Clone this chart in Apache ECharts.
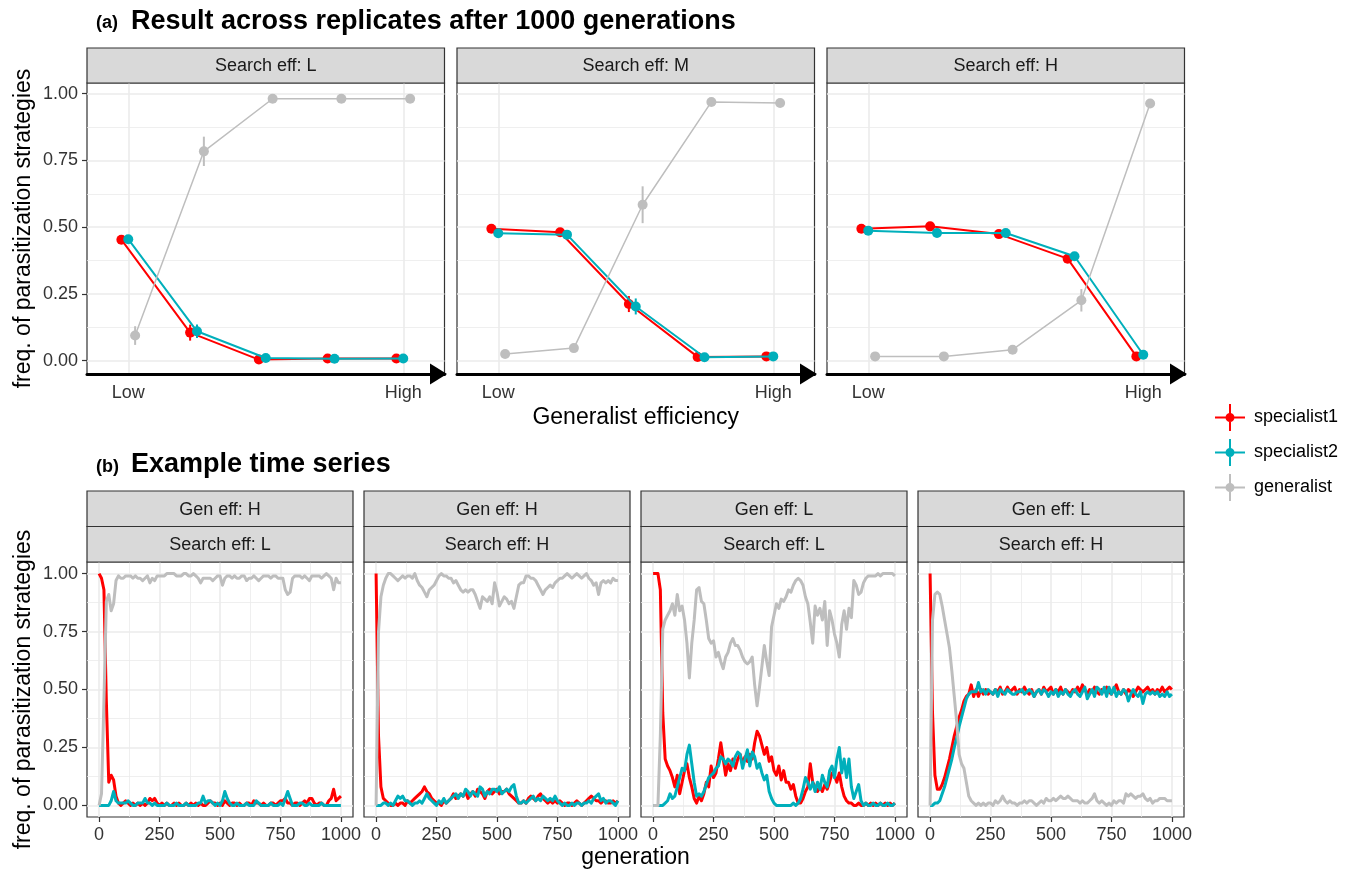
<!DOCTYPE html>
<html><head><meta charset="utf-8">
<script src="https://cdn.jsdelivr.net/npm/echarts@6/dist/echarts.min.js"></script>
<style>html,body{margin:0;padding:0;background:#fff}#c{width:1352px;height:874px}</style>
</head><body><div id="c"></div>
<script>
// ---------------- DATA ----------------
const strategies = ['specialist1', 'specialist2', 'generalist'];

// (a) Result across replicates after 1000 generations
const effLevels = [1, 2, 3, 4, 5];
const effTickValues = [1, 5];
const effTickLabels = ['Low', 'High'];
const freqTicks = [0, 0.25, 0.5, 0.75, 1];
const freqMinorTicks = [0.125, 0.375, 0.625, 0.875];
const panelsA = ['Search eff: L', 'Search eff: M', 'Search eff: H'];

const aL_spec1 = [0.453, 0.105, 0.004, 0.008, 0.008];
const aL_spec1_se = [0.008, 0.030, 0.004, 0.004, 0.004];
const aL_spec2 = [0.455, 0.110, 0.010, 0.007, 0.008];
const aL_spec2_se = [0.008, 0.025, 0.004, 0.004, 0.004];
const aL_gen = [0.094, 0.784, 0.981, 0.981, 0.981];
const aL_gen_se = [0.035, 0.055, 0.004, 0.004, 0.004];

const aM_spec1 = [0.494, 0.481, 0.212, 0.014, 0.016];
const aM_spec1_se = [0.006, 0.006, 0.030, 0.004, 0.004];
const aM_spec2 = [0.477, 0.472, 0.203, 0.013, 0.016];
const aM_spec2_se = [0.006, 0.006, 0.030, 0.004, 0.004];
const aM_gen = [0.025, 0.047, 0.584, 0.969, 0.965];
const aM_gen_se = [0.004, 0.004, 0.069, 0.004, 0.004];

const aH_spec1 = [0.494, 0.503, 0.474, 0.382, 0.016];
const aH_spec1_se = [0.005, 0.006, 0.006, 0.015, 0.004];
const aH_spec2 = [0.487, 0.478, 0.478, 0.391, 0.022];
const aH_spec2_se = [0.005, 0.005, 0.006, 0.015, 0.004];
const aH_gen = [0.016, 0.016, 0.041, 0.226, 0.963];
const aH_gen_se = [0.004, 0.004, 0.004, 0.042, 0.004];

// (b) Example time series
const genTicks = [0, 250, 500, 750, 1000];
const genMinorTicks = [125, 375, 625, 875];
const panelsB_gen = ['Gen eff: H', 'Gen eff: H', 'Gen eff: L', 'Gen eff: L'];
const panelsB_search = ['Search eff: L', 'Search eff: H', 'Search eff: L', 'Search eff: H'];
const generation = [0,10,20,30,40,50,60,70,80,90,100,110,120,130,140,150,160,170,180,190,200,210,220,230,240,250,260,270,280,290,300,310,320,330,340,350,360,370,380,390,400,410,420,430,440,450,460,470,480,490,500,510,520,530,540,550,560,570,580,590,600,610,620,630,640,650,660,670,680,690,700,710,720,730,740,750,760,770,780,790,800,810,820,830,840,850,860,870,880,890,900,910,920,930,940,950,960,970,980,990,1000];

const b1_spec1 = [1.00,0.98,0.93,0.45,0.10,0.13,0.11,0.04,0.01,0.00,
 0.01,0.02,0.01,0.00,0.01,0.00,0.01,0.00,0.01,0.00,
 0.01,0.03,0.02,0.03,0.01,0.00,0.01,0.00,0.01,0.00,
 0.00,0.01,0.00,0.01,0.00,0.00,0.01,0.00,0.01,0.00,
 0.01,0.00,0.01,0.00,0.00,0.01,0.02,0.01,0.01,0.00,
 0.01,0.00,0.02,0.01,0.00,0.01,0.01,0.00,0.01,0.00,
 0.00,0.01,0.01,0.00,0.02,0.01,0.01,0.00,0.01,0.00,
 0.00,0.01,0.01,0.00,0.01,0.02,0.02,0.03,0.01,0.01,
 0.00,0.01,0.01,0.00,0.01,0.02,0.01,0.03,0.03,0.01,
 0.00,0.01,0.01,0.00,0.00,0.02,0.03,0.07,0.02,0.03,0.04];
const b1_spec2 = [0.00,0.00,0.00,0.00,0.00,0.02,0.06,0.02,0.01,0.01,
 0.01,0.01,0.02,0.01,0.00,0.00,0.01,0.01,0.01,0.03,
 0.01,0.01,0.00,0.01,0.00,0.00,0.00,0.00,0.01,0.00,
 0.00,0.00,0.01,0.00,0.00,0.00,0.01,0.00,0.00,0.00,
 0.00,0.01,0.01,0.04,0.01,0.02,0.02,0.01,0.00,0.01,
 0.00,0.02,0.06,0.03,0.01,0.00,0.00,0.01,0.00,0.00,
 0.00,0.01,0.00,0.00,0.00,0.02,0.01,0.00,0.00,0.00,
 0.00,0.01,0.00,0.00,0.00,0.01,0.00,0.03,0.06,0.03,
 0.00,0.00,0.00,0.01,0.01,0.00,0.00,0.01,0.00,0.00,
 0.00,0.00,0.01,0.00,0.00,0.00,0.00,0.00,0.00,0.00,0.00];
const b1_gen = [0.00,0.05,0.45,0.88,0.91,0.84,0.87,0.97,0.99,0.98,
 0.98,0.99,0.99,0.99,0.98,0.99,0.98,0.98,0.97,0.98,
 0.99,0.96,0.98,0.97,0.99,0.99,0.99,0.99,1.00,1.00,
 1.00,1.00,0.99,0.99,0.99,1.00,1.00,0.99,0.99,1.00,
 0.99,0.98,0.96,0.98,0.98,0.98,0.98,0.97,0.98,0.99,
 0.99,0.95,0.98,0.99,0.99,0.98,0.99,0.98,0.98,0.99,
 0.99,0.97,0.98,0.98,0.99,0.98,0.97,0.98,0.99,0.99,
 0.99,0.98,0.99,0.99,0.98,0.98,0.98,0.93,0.91,0.92,
 0.98,0.99,0.99,0.99,0.98,0.99,0.98,0.97,0.99,0.99,
 0.99,0.99,0.98,0.99,1.00,0.99,0.98,0.93,0.98,0.96,0.96];

const b2_spec1 = [1.00,0.30,0.08,0.03,0.02,0.01,0.00,0.00,0.01,0.00,
 0.01,0.01,0.00,0.02,0.01,0.02,0.03,0.04,0.05,0.06,
 0.08,0.06,0.05,0.03,0.02,0.01,0.01,0.00,0.02,0.01,
 0.02,0.03,0.05,0.03,0.04,0.05,0.04,0.06,0.03,0.05,
 0.06,0.04,0.07,0.06,0.05,0.03,0.06,0.07,0.05,0.06,
 0.07,0.05,0.06,0.06,0.07,0.05,0.04,0.03,0.02,0.01,
 0.01,0.02,0.01,0.03,0.04,0.03,0.02,0.04,0.05,0.03,
 0.02,0.01,0.02,0.01,0.02,0.01,0.02,0.01,0.00,0.01,
 0.01,0.00,0.01,0.02,0.01,0.00,0.01,0.02,0.03,0.04,
 0.03,0.02,0.02,0.01,0.02,0.02,0.01,0.01,0.02,0.01,0.02];
const b2_spec2 = [0.00,0.00,0.00,0.01,0.01,0.00,0.01,0.00,0.02,0.04,
 0.03,0.04,0.02,0.02,0.01,0.00,0.01,0.01,0.02,0.01,
 0.03,0.05,0.03,0.02,0.01,0.00,0.02,0.01,0.03,0.01,
 0.02,0.03,0.04,0.05,0.03,0.05,0.04,0.07,0.06,0.04,
 0.06,0.05,0.04,0.08,0.07,0.04,0.06,0.05,0.07,0.07,
 0.06,0.08,0.05,0.06,0.07,0.06,0.08,0.09,0.04,0.01,
 0.01,0.02,0.01,0.02,0.03,0.04,0.02,0.03,0.02,0.04,
 0.03,0.02,0.03,0.02,0.04,0.02,0.01,0.00,0.01,0.00,
 0.00,0.01,0.00,0.01,0.01,0.00,0.01,0.01,0.02,0.01,
 0.03,0.04,0.05,0.02,0.03,0.01,0.02,0.02,0.01,0.00,0.02];
const b2_gen = [0.00,0.75,0.90,0.95,0.98,1.00,1.00,0.99,0.98,0.97,
 0.98,0.99,0.98,0.99,0.99,0.98,1.00,0.97,0.95,0.94,
 0.92,0.90,0.93,0.94,0.95,0.97,0.99,1.00,0.99,0.99,
 0.98,0.98,0.96,0.97,0.95,0.93,0.92,0.93,0.92,0.93,
 0.93,0.91,0.88,0.85,0.90,0.89,0.88,0.90,0.87,0.96,
 0.92,0.86,0.88,0.90,0.89,0.87,0.88,0.85,0.90,0.95,
 0.96,0.96,0.99,0.99,0.98,0.98,0.97,0.95,0.93,0.91,
 0.93,0.94,0.95,0.94,0.96,0.97,0.98,0.98,0.99,1.00,
 0.99,0.98,0.99,1.00,0.99,0.98,0.99,1.00,0.98,0.97,
 0.95,0.96,0.91,0.96,0.97,0.96,0.97,0.96,0.98,0.97,0.97];

const b3_spec1 = [1.00,1.00,1.00,0.93,0.40,0.20,0.17,0.15,0.12,0.08,
 0.13,0.05,0.10,0.15,0.18,0.12,0.08,0.03,0.01,0.04,
 0.02,0.05,0.10,0.08,0.17,0.12,0.14,0.20,0.27,0.20,
 0.13,0.18,0.15,0.20,0.16,0.20,0.22,0.18,0.21,0.19,
 0.22,0.20,0.27,0.32,0.30,0.26,0.22,0.25,0.19,0.21,
 0.15,0.13,0.17,0.11,0.15,0.10,0.10,0.07,0.09,0.04,
 0.01,0.01,0.03,0.06,0.08,0.18,0.10,0.08,0.06,0.08,
 0.06,0.09,0.07,0.10,0.14,0.13,0.10,0.14,0.08,0.04,
 0.02,0.01,0.01,0.00,0.00,0.01,0.00,0.00,0.01,0.00,
 0.01,0.00,0.01,0.00,0.01,0.00,0.01,0.00,0.01,0.00,0.01];
const b3_spec2 = [0.00,0.00,0.00,0.00,0.00,0.01,0.02,0.05,0.03,0.04,
 0.08,0.12,0.16,0.15,0.22,0.26,0.18,0.10,0.04,0.05,
 0.04,0.06,0.09,0.12,0.13,0.14,0.16,0.17,0.21,0.20,
 0.18,0.20,0.19,0.17,0.21,0.23,0.22,0.16,0.20,0.24,
 0.17,0.23,0.21,0.16,0.18,0.14,0.11,0.13,0.06,0.03,
 0.01,0.00,0.00,0.00,0.00,0.00,0.00,0.00,0.01,0.00,
 0.01,0.03,0.07,0.12,0.10,0.07,0.10,0.06,0.10,0.07,
 0.13,0.10,0.08,0.15,0.17,0.12,0.20,0.25,0.14,0.20,
 0.12,0.20,0.08,0.03,0.06,0.09,0.02,0.00,0.01,0.00,
 0.00,0.01,0.00,0.00,0.01,0.00,0.00,0.01,0.00,0.00,0.01];
const b3_gen = [0.00,0.00,0.00,0.30,0.76,0.80,0.82,0.84,0.87,0.82,
 0.91,0.84,0.86,0.80,0.70,0.55,0.70,0.80,0.93,0.94,
 0.88,0.87,0.80,0.72,0.70,0.71,0.64,0.66,0.62,0.59,
 0.64,0.66,0.70,0.72,0.69,0.69,0.67,0.64,0.62,0.61,
 0.62,0.64,0.52,0.43,0.51,0.60,0.69,0.62,0.56,0.77,
 0.82,0.87,0.85,0.89,0.88,0.90,0.93,0.92,0.95,0.97,
 0.98,0.97,0.95,0.90,0.87,0.79,0.70,0.86,0.82,0.85,
 0.80,0.88,0.69,0.84,0.80,0.74,0.70,0.64,0.78,0.84,
 0.76,0.85,0.81,0.97,0.95,0.91,0.92,0.96,0.98,0.99,
 0.99,0.99,0.99,1.00,0.99,1.00,1.00,1.00,1.00,1.00,0.99];

const b4_spec1 = [1.00,0.40,0.13,0.07,0.07,0.09,0.12,0.16,0.20,0.25,
 0.30,0.34,0.38,0.41,0.45,0.47,0.48,0.52,0.47,0.50,
 0.47,0.50,0.48,0.50,0.48,0.49,0.48,0.50,0.49,0.51,
 0.48,0.49,0.51,0.49,0.50,0.51,0.48,0.50,0.49,0.51,
 0.49,0.48,0.50,0.47,0.49,0.50,0.48,0.51,0.49,0.50,
 0.51,0.48,0.50,0.49,0.51,0.48,0.50,0.49,0.48,0.50,
 0.49,0.51,0.49,0.52,0.50,0.48,0.50,0.49,0.51,0.49,
 0.48,0.50,0.49,0.51,0.49,0.48,0.50,0.52,0.49,0.48,
 0.50,0.48,0.50,0.49,0.47,0.49,0.51,0.50,0.49,0.50,
 0.51,0.49,0.50,0.48,0.50,0.49,0.51,0.49,0.50,0.51,0.50];
const b4_spec2 = [0.00,0.00,0.01,0.01,0.02,0.05,0.08,0.12,0.16,0.20,
 0.25,0.29,0.34,0.38,0.42,0.46,0.48,0.49,0.49,0.49,
 0.53,0.49,0.50,0.48,0.50,0.49,0.48,0.50,0.47,0.50,
 0.49,0.48,0.50,0.49,0.48,0.48,0.49,0.49,0.50,0.48,
 0.49,0.50,0.49,0.47,0.49,0.50,0.48,0.50,0.49,0.47,
 0.49,0.48,0.50,0.47,0.49,0.48,0.50,0.48,0.47,0.49,
 0.50,0.48,0.47,0.49,0.51,0.46,0.48,0.50,0.47,0.51,
 0.50,0.48,0.51,0.47,0.51,0.48,0.51,0.47,0.49,0.48,
 0.50,0.49,0.45,0.48,0.50,0.48,0.47,0.49,0.44,0.48,
 0.49,0.48,0.49,0.48,0.49,0.47,0.48,0.47,0.49,0.47,0.48];
const b4_gen = [0.00,0.80,0.91,0.92,0.91,0.86,0.80,0.74,0.68,0.58,
 0.47,0.36,0.22,0.18,0.16,0.10,0.04,0.02,0.01,0.00,
 0.01,0.00,0.01,0.00,0.01,0.01,0.00,0.02,0.01,0.02,
 0.04,0.02,0.01,0.02,0.01,0.01,0.00,0.01,0.01,0.02,
 0.01,0.02,0.02,0.01,0.00,0.01,0.02,0.01,0.03,0.02,
 0.02,0.03,0.02,0.03,0.04,0.03,0.03,0.04,0.03,0.02,
 0.02,0.02,0.01,0.02,0.01,0.01,0.02,0.03,0.05,0.02,
 0.01,0.02,0.01,0.00,0.01,0.00,0.02,0.01,0.02,0.02,
 0.01,0.05,0.04,0.05,0.04,0.03,0.04,0.04,0.05,0.03,
 0.02,0.03,0.01,0.02,0.02,0.03,0.03,0.03,0.02,0.02,0.02];

// ---------------- STYLE / LAYOUT ----------------
const FONT = '"Liberation Sans", Arial, Helvetica, sans-serif';
const stratColors = ['#FF0000', '#00AFBB', '#BEBEBE'];
const dodge = [-0.1, 0, 0.1];
const GRID_MAJOR = { color: '#EBEBEB', width: 1.6 };
const GRID_MINOR = { color: '#EBEBEB', width: 0.8 };
const TICK_STYLE = { color: '#333333', width: 1.2 };
const LABEL = { fontSize: 18, color: '#333333', fontFamily: FONT };

const A = { left0: 87, step: 370, width: 357.5, top: 83, height: 291, stripTop: 48, stripH: 35, ymin: -0.05, ymax: 1.04 };
const B = { left0: 87, step: 277, width: 266, top: 562, height: 255, stripTop: 491, stripH: 35.5, ymin: -0.05, ymax: 1.05 };

const meansA = [
  [aL_spec1, aL_spec2, aL_gen],
  [aM_spec1, aM_spec2, aM_gen],
  [aH_spec1, aH_spec2, aH_gen]
];
const seA = [
  [aL_spec1_se, aL_spec2_se, aL_gen_se],
  [aM_spec1_se, aM_spec2_se, aM_gen_se],
  [aH_spec1_se, aH_spec2_se, aH_gen_se]
];
const seriesB = [
  [b1_spec1, b1_spec2, b1_gen],
  [b2_spec1, b2_spec2, b2_gen],
  [b3_spec1, b3_spec2, b3_gen],
  [b4_spec1, b4_spec2, b4_gen]
];

const grids = [], xAxes = [], yAxes = [], series = [], graphics = [];

function strip(x, y, w, h, text) {
  graphics.push({ type: 'rect', shape: { x: x, y: y, width: w, height: h },
    style: { fill: '#D9D9D9', stroke: '#333333', lineWidth: 1.2 }, z: 10 });
  graphics.push({ type: 'text', x: x + w / 2, y: y + h / 2 + 1, z: 11,
    style: { text: text, fontSize: 18, fontFamily: FONT, fill: '#1A1A1A', align: 'center', verticalAlign: 'middle' } });
}

function yAxisPair(g, L, showY, name) {
  yAxes.push({
    gridIndex: g, type: 'value', min: L.ymin, max: L.ymax, position: 'left',
    name: name || '', nameLocation: 'middle', nameGap: 52, nameMoveOverlap: false,
    nameTextStyle: { fontSize: 23, color: '#000', fontFamily: FONT },
    axisLine: { show: false, onZero: false },
    axisTick: { show: showY, length: 5, lineStyle: TICK_STYLE, customValues: freqTicks },
    axisLabel: { show: showY, customValues: freqTicks, formatter: v => v.toFixed(2), margin: 9, ...LABEL },
    splitLine: { show: true, lineStyle: GRID_MAJOR }
  });
  yAxes.push({
    gridIndex: g, type: 'value', min: L.ymin, max: L.ymax, position: 'right',
    axisLine: { show: false, onZero: false },
    axisTick: { show: false, customValues: freqMinorTicks },
    axisLabel: { show: false, customValues: freqMinorTicks },
    splitLine: { show: true, lineStyle: GRID_MINOR }
  });
}

// ---- (a) panels ----
for (let p = 0; p < 3; p++) {
  const g = grids.length;
  const left = A.left0 + p * A.step;
  grids.push({ left: left, top: A.top, width: A.width, height: A.height, show: true,
    borderColor: '#333333', borderWidth: 1.2, backgroundColor: 'rgba(0,0,0,0)', outerBoundsMode: 'none', containLabel: false });
  xAxes.push({
    gridIndex: g, type: 'value', min: 0.4, max: 5.6, position: 'bottom',
    name: p === 1 ? 'Generalist efficiency' : '', nameLocation: 'middle', nameGap: 32, nameMoveOverlap: false,
    nameTextStyle: { fontSize: 23, color: '#000', fontFamily: FONT },
    axisLine: { show: true, onZero: false, lineStyle: { color: '#000', width: 3 },
      symbol: ['none', 'triangle'], symbolSize: [21, 17], symbolOffset: [0, -6] },
    axisTick: { show: false, customValues: effTickValues },
    axisLabel: { customValues: effTickValues, formatter: v => effTickLabels[effTickValues.indexOf(v)], margin: 10, ...LABEL },
    splitLine: { show: true, lineStyle: GRID_MAJOR }
  });
  xAxes.push({ gridIndex: g, type: 'value', min: 0.4, max: 5.6, position: 'top', show: false });
  yAxisPair(g, A, p === 0, p === 0 ? 'freq. of parasitization strategies' : '');
  strip(left, A.stripTop, A.width, A.stripH, panelsA[p]);

  for (let s = 0; s < 3; s++) {
    const m = meansA[p][s], se = seA[p][s];
    const col = stratColors[s];
    series.push({
      type: 'line', name: strategies[s], xAxisIndex: 2 * g, yAxisIndex: 2 * g, z: 3 + s,
      data: effLevels.map((x, i) => [x + dodge[s], m[i]]),
      symbol: 'circle', symbolSize: 10, showSymbol: true, silent: true,
      itemStyle: { color: col }, lineStyle: { color: col, width: s === 2 ? 1.5 : 2 }
    });
    series.push({
      type: 'custom', name: strategies[s], xAxisIndex: 2 * g, yAxisIndex: 2 * g, z: 3 + s, silent: true,
      itemStyle: { color: col },
      data: effLevels.map((x, i) => [x + dodge[s], m[i] - se[i], m[i] + se[i]]),
      encode: { x: 0, y: [1, 2] },
      renderItem: (params, api) => {
        const a = api.coord([api.value(0), api.value(1)]);
        const b = api.coord([api.value(0), api.value(2)]);
        return { type: 'line', shape: { x1: a[0], y1: a[1], x2: b[0], y2: b[1] },
          style: { stroke: col, lineWidth: 2 } };
      }
    });
  }
}

// ---- (b) panels ----
for (let p = 0; p < 4; p++) {
  const g = grids.length;
  const left = B.left0 + p * B.step;
  grids.push({ left: left, top: B.top, width: B.width, height: B.height, show: true,
    borderColor: '#333333', borderWidth: 1.2, backgroundColor: 'rgba(0,0,0,0)', outerBoundsMode: 'none', containLabel: false });
  xAxes.push({
    gridIndex: g, type: 'value', min: -50, max: 1050, position: 'bottom',
    axisLine: { show: false, onZero: false },
    axisTick: { show: true, length: 5, lineStyle: TICK_STYLE, customValues: genTicks },
    axisLabel: { customValues: genTicks, formatter: v => String(v), margin: 9, ...LABEL },
    splitLine: { show: true, lineStyle: GRID_MAJOR }
  });
  xAxes.push({
    gridIndex: g, type: 'value', min: -50, max: 1050, position: 'top',
    axisLine: { show: false, onZero: false },
    axisTick: { show: false, customValues: genMinorTicks },
    axisLabel: { show: false, customValues: genMinorTicks },
    splitLine: { show: true, lineStyle: GRID_MINOR }
  });
  yAxisPair(g, B, p === 0, p === 0 ? 'freq. of parasitization strategies' : '');
  strip(left, B.stripTop, B.width, B.stripH, panelsB_gen[p]);
  strip(left, B.stripTop + B.stripH, B.width, B.stripH, panelsB_search[p]);

  for (let s = 0; s < 3; s++) {
    const vals = seriesB[p][s];
    const col = stratColors[s];
    series.push({
      type: 'line', name: strategies[s], xAxisIndex: 2 * g, yAxisIndex: 2 * g, z: 3 + s,
      data: generation.map((x, i) => [x, vals[i]]),
      showSymbol: false, symbol: 'none', silent: true,
      itemStyle: { color: col }, lineStyle: { color: col, width: 3, join: 'round' }
    });
  }
}

// shared x title for (b)
graphics.push({ type: 'text', x: (B.left0 + 1 * B.step + B.width + B.left0 + 2 * B.step) / 2, y: 858,
  style: { text: 'generation', fontSize: 23, fontFamily: FONT, fill: '#000', align: 'center', verticalAlign: 'middle' } });

// titles
graphics.push({ type: 'text', x: 96, y: 23.5, style: { text: '(a)', fontSize: 18, fontWeight: 'bold', fontFamily: FONT, fill: '#000', align: 'left', verticalAlign: 'middle' } });
graphics.push({ type: 'text', x: 131, y: 21.5, style: { text: 'Result across replicates after 1000 generations', fontSize: 27, fontWeight: 'bold', fontFamily: FONT, fill: '#000', align: 'left', verticalAlign: 'middle' } });
graphics.push({ type: 'text', x: 96, y: 467, style: { text: '(b)', fontSize: 18, fontWeight: 'bold', fontFamily: FONT, fill: '#000', align: 'left', verticalAlign: 'middle' } });
graphics.push({ type: 'text', x: 131, y: 465, style: { text: 'Example time series', fontSize: 27, fontWeight: 'bold', fontFamily: FONT, fill: '#000', align: 'left', verticalAlign: 'middle' } });

const legendIcon = 'path://M0,12.5h30v2h-30z M14,0h2v27h-2z M10.5,13.5a4.5,4.5 0 1,1 9,0a4.5,4.5 0 1,1 -9,0z';

const option = {
  animation: false,
  backgroundColor: '#ffffff',
  textStyle: { fontFamily: FONT },
  grid: grids,
  xAxis: xAxes,
  yAxis: yAxes,
  series: series,
  legend: {
    orient: 'vertical', left: 1210, top: 399, itemWidth: 30, itemHeight: 27, itemGap: 8,
    selectedMode: false,
    textStyle: { fontSize: 18, color: '#000', fontFamily: FONT, padding: [0, 0, 0, 4] },
    data: strategies.map((n, i) => ({ name: n, icon: legendIcon, itemStyle: { color: stratColors[i], borderWidth: 0 } }))
  },
  graphic: graphics
};

const chart = echarts.init(document.getElementById('c'), null, { renderer: 'canvas', width: 1352, height: 874 });
chart.setOption(option);
</script>
</body></html>
